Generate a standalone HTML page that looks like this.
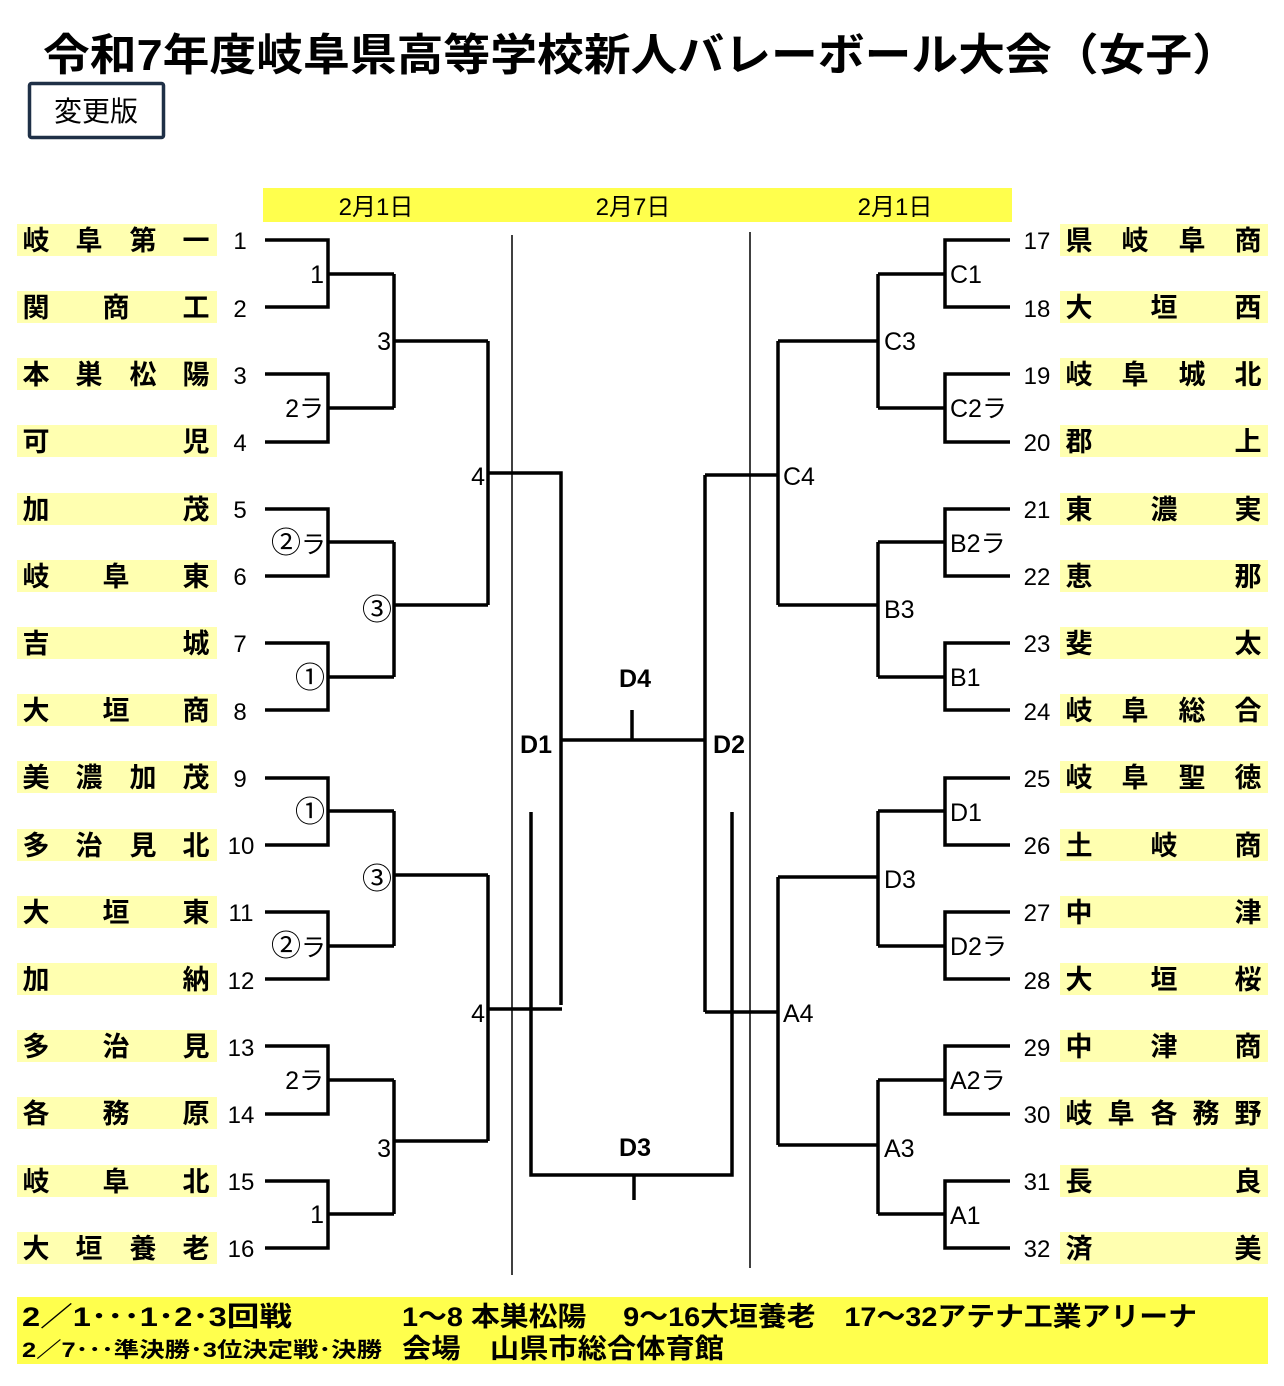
<!DOCTYPE html>
<html><head><meta charset="utf-8"><style>
html,body{margin:0;padding:0;background:#fff;}
svg{display:block;}
text{font-family:"Liberation Sans","Noto Sans CJK JP",sans-serif;fill:#000;}
.n{font-size:27px;font-weight:bold;text-anchor:middle;}
.num{font-size:24px;text-anchor:middle;}
.lb{font-size:25px;}
.c{font-size:30px;}
.rl{text-anchor:end;}
</style></head><body>
<svg width="1284" height="1386" viewBox="0 0 1284 1386" xmlns="http://www.w3.org/2000/svg">
<text x="641" y="70" font-size="44" font-weight="bold" text-anchor="middle" textLength="1196" lengthAdjust="spacingAndGlyphs">令和7年度岐阜県高等学校新人バレーボール大会（女子）</text>
<rect x="29.5" y="83.5" width="134" height="54" rx="2" fill="#fff" stroke="#1f3047" stroke-width="3.5"/>
<text x="96" y="121" font-size="28" text-anchor="middle">変更版</text>

<rect x="263" y="188" width="749" height="34" fill="#ffff4d"/>
<text x="376" y="215" font-size="24" text-anchor="middle">2月1日</text>
<text x="633" y="215" font-size="24" text-anchor="middle">2月7日</text>
<text x="895" y="215" font-size="24" text-anchor="middle">2月1日</text>

<g fill="#ffffb0">
<rect x="17" y="224" width="200" height="32"/><rect x="17" y="291" width="200" height="32"/><rect x="17" y="358" width="200" height="32"/><rect x="17" y="425" width="200" height="32"/>
<rect x="17" y="493" width="200" height="32"/><rect x="17" y="560" width="200" height="32"/><rect x="17" y="627" width="200" height="32"/><rect x="17" y="694" width="200" height="32"/>
<rect x="17" y="761" width="200" height="32"/><rect x="17" y="829" width="200" height="32"/><rect x="17" y="896" width="200" height="32"/><rect x="17" y="963" width="200" height="32"/>
<rect x="17" y="1030" width="200" height="32"/><rect x="17" y="1097" width="200" height="32"/><rect x="17" y="1165" width="200" height="32"/><rect x="17" y="1232" width="200" height="32"/>
<rect x="1060" y="224" width="208" height="32"/><rect x="1060" y="291" width="208" height="32"/><rect x="1060" y="358" width="208" height="32"/><rect x="1060" y="425" width="208" height="32"/>
<rect x="1060" y="493" width="208" height="32"/><rect x="1060" y="560" width="208" height="32"/><rect x="1060" y="627" width="208" height="32"/><rect x="1060" y="694" width="208" height="32"/>
<rect x="1060" y="761" width="208" height="32"/><rect x="1060" y="829" width="208" height="32"/><rect x="1060" y="896" width="208" height="32"/><rect x="1060" y="963" width="208" height="32"/>
<rect x="1060" y="1030" width="208" height="32"/><rect x="1060" y="1097" width="208" height="32"/><rect x="1060" y="1165" width="208" height="32"/><rect x="1060" y="1232" width="208" height="32"/>
</g>

<g class="n">
<text class="n" x="36 89 143 196" y="250">岐阜第一</text>
<text class="n" x="36 116 196" y="317">関商工</text>
<text class="n" x="36 89 143 196" y="384">本巣松陽</text>
<text class="n" x="36 196" y="451">可児</text>
<text class="n" x="36 196" y="519">加茂</text>
<text class="n" x="36 116 196" y="586">岐阜東</text>
<text class="n" x="36 196" y="653">吉城</text>
<text class="n" x="36 116 196" y="720">大垣商</text>
<text class="n" x="36 89 143 196" y="787">美濃加茂</text>
<text class="n" x="36 89 143 196" y="855">多治見北</text>
<text class="n" x="36 116 196" y="922">大垣東</text>
<text class="n" x="36 196" y="989">加納</text>
<text class="n" x="36 116 196" y="1056">多治見</text>
<text class="n" x="36 116 196" y="1123">各務原</text>
<text class="n" x="36 116 196" y="1191">岐阜北</text>
<text class="n" x="36 89 143 196" y="1258">大垣養老</text>

<text class="n" x="1079 1135 1192 1248" y="250">県岐阜商</text>
<text class="n" x="1079 1164 1248" y="317">大垣西</text>
<text class="n" x="1079 1135 1192 1248" y="384">岐阜城北</text>
<text class="n" x="1079 1248" y="451">郡上</text>
<text class="n" x="1079 1164 1248" y="519">東濃実</text>
<text class="n" x="1079 1248" y="586">恵那</text>
<text class="n" x="1079 1248" y="653">斐太</text>
<text class="n" x="1079 1135 1192 1248" y="720">岐阜総合</text>
<text class="n" x="1079 1135 1192 1248" y="787">岐阜聖徳</text>
<text class="n" x="1079 1164 1248" y="855">土岐商</text>
<text class="n" x="1079 1248" y="922">中津</text>
<text class="n" x="1079 1164 1248" y="989">大垣桜</text>
<text class="n" x="1079 1164 1248" y="1056">中津商</text>
<text class="n" x="1079 1121 1164 1206 1248" y="1123">岐阜各務野</text>
<text class="n" x="1079 1248" y="1191">長良</text>
<text class="n" x="1079 1248" y="1258">済美</text>
</g>

<g>
<text class="num" x="240" y="249">1</text><text class="num" x="240" y="317">2</text><text class="num" x="240" y="384">3</text><text class="num" x="240" y="451">4</text>
<text class="num" x="240" y="518">5</text><text class="num" x="240" y="585">6</text><text class="num" x="240" y="652">7</text><text class="num" x="240" y="720">8</text>
<text class="num" x="240" y="787">9</text><text class="num" x="241" y="854">10</text><text class="num" x="241" y="921">11</text><text class="num" x="241" y="989">12</text>
<text class="num" x="241" y="1056">13</text><text class="num" x="241" y="1123">14</text><text class="num" x="241" y="1190">15</text><text class="num" x="241" y="1257">16</text>
<text class="num" x="1037" y="249">17</text><text class="num" x="1037" y="317">18</text><text class="num" x="1037" y="384">19</text><text class="num" x="1037" y="451">20</text>
<text class="num" x="1037" y="518">21</text><text class="num" x="1037" y="585">22</text><text class="num" x="1037" y="652">23</text><text class="num" x="1037" y="720">24</text>
<text class="num" x="1037" y="787">25</text><text class="num" x="1037" y="854">26</text><text class="num" x="1037" y="921">27</text><text class="num" x="1037" y="989">28</text>
<text class="num" x="1037" y="1056">29</text><text class="num" x="1037" y="1123">30</text><text class="num" x="1037" y="1190">31</text><text class="num" x="1037" y="1257">32</text>
</g>

<g stroke="#000" stroke-width="1.5" fill="none">
<path d="M512 235V1275M750 232V1268"/>
</g>
<g stroke="#000" stroke-width="3.5" fill="none" stroke-linecap="butt" stroke-linejoin="miter">
<path d="M265 240H328V307H265M328 274H394"/>
<path d="M265 374H328V442H265M328 408H394"/>
<path d="M265 509H328V576H265M328 542H394"/>
<path d="M265 643H328V710H265M328 677H394"/>
<path d="M265 778H328V845H265M328 811H394"/>
<path d="M265 912H328V979H265M328 946H394"/>
<path d="M265 1046H328V1114H265M328 1080H394"/>
<path d="M265 1181H328V1248H265M328 1214H394"/>
<path d="M394 274V408M394 341H488"/>
<path d="M394 542V677M394 605H488"/>
<path d="M394 811V946M394 875H488"/>
<path d="M394 1080V1214M394 1141H488"/>
<path d="M488 341V605M488 473H561V1005"/>
<path d="M488 875V1141M488 1009H562"/>
<path d="M561 740H705M632 740V710"/>
<path d="M705 475V1012"/>
<path d="M531 812V1175H732V812M634 1175V1200"/>
<path d="M705 475H778M778 341V605"/>
<path d="M705 1012H778M778 877V1145"/>
<path d="M778 341H878M878 274V408"/>
<path d="M778 605H878M878 542V677"/>
<path d="M778 877H878M878 811V946"/>
<path d="M778 1145H878M878 1080V1214"/>
<path d="M878 274H945M1010 240H945V307H1010"/>
<path d="M878 408H945M1010 374H945V442H1010"/>
<path d="M878 542H945M1010 509H945V576H1010"/>
<path d="M878 677H945M1010 643H945V710H1010"/>
<path d="M878 811H945M1010 778H945V845H1010"/>
<path d="M878 946H945M1010 912H945V979H1010"/>
<path d="M878 1080H945M1010 1046H945V1114H1010"/>
<path d="M878 1214H945M1010 1181H945V1248H1010"/>
</g>

<g class="lb">
<text class="lb rl" x="324" y="283">1</text>
<text class="lb rl" x="324" y="417">2ラ</text>
<text class="lb rl" x="326" y="553"><tspan class="c">②</tspan>ラ</text>
<text class="lb rl c" x="325" y="688">①</text>
<text class="lb rl c" x="325" y="822">①</text>
<text class="lb rl" x="326" y="956"><tspan class="c">②</tspan>ラ</text>
<text class="lb rl" x="324" y="1089">2ラ</text>
<text class="lb rl" x="324" y="1223">1</text>
<text class="lb rl" x="391" y="350">3</text>
<text class="lb rl c" x="392" y="620">③</text>
<text class="lb rl c" x="392" y="889">③</text>
<text class="lb rl" x="391" y="1157">3</text>
<text class="lb rl" x="485" y="485">4</text>
<text class="lb rl" x="485" y="1022">4</text>

<text class="lb" x="950" y="283">C1</text>
<text class="lb" x="950" y="417">C2ラ</text>
<text class="lb" x="950" y="552">B2ラ</text>
<text class="lb" x="950" y="686">B1</text>
<text class="lb" x="950" y="821">D1</text>
<text class="lb" x="950" y="955">D2ラ</text>
<text class="lb" x="950" y="1089">A2ラ</text>
<text class="lb" x="950" y="1224">A1</text>
<text class="lb" x="884" y="350">C3</text>
<text class="lb" x="884" y="618">B3</text>
<text class="lb" x="884" y="888">D3</text>
<text class="lb" x="884" y="1157">A3</text>
<text class="lb" x="783" y="485">C4</text>
<text class="lb" x="783" y="1022">A4</text>

<text x="635" y="687" font-size="25" font-weight="bold" text-anchor="middle">D4</text>
<text x="536" y="753" font-size="25" font-weight="bold" text-anchor="middle">D1</text>
<text x="729" y="753" font-size="25" font-weight="bold" text-anchor="middle">D2</text>
<text x="635" y="1156" font-size="25" font-weight="bold" text-anchor="middle">D3</text>
</g>

<rect x="17" y="1297" width="1251" height="67" fill="#ffff4d"/>
<text x="22" y="1326" font-size="27" font-weight="bold" textLength="270" lengthAdjust="spacingAndGlyphs">2／1･･･1･2･3回戦</text>
<text x="402" y="1326" font-size="27" font-weight="bold" textLength="795" lengthAdjust="spacingAndGlyphs">1～8 本巣松陽　 9～16大垣養老　17～32アテナ工業アリーナ</text>
<text x="22" y="1357" font-size="21" font-weight="bold" textLength="360" lengthAdjust="spacingAndGlyphs">2／7･･･準決勝･3位決定戦･決勝</text>
<text x="402" y="1358" font-size="27" font-weight="bold" textLength="322" lengthAdjust="spacingAndGlyphs">会場　山県市総合体育館</text>
</svg>
</body></html>
